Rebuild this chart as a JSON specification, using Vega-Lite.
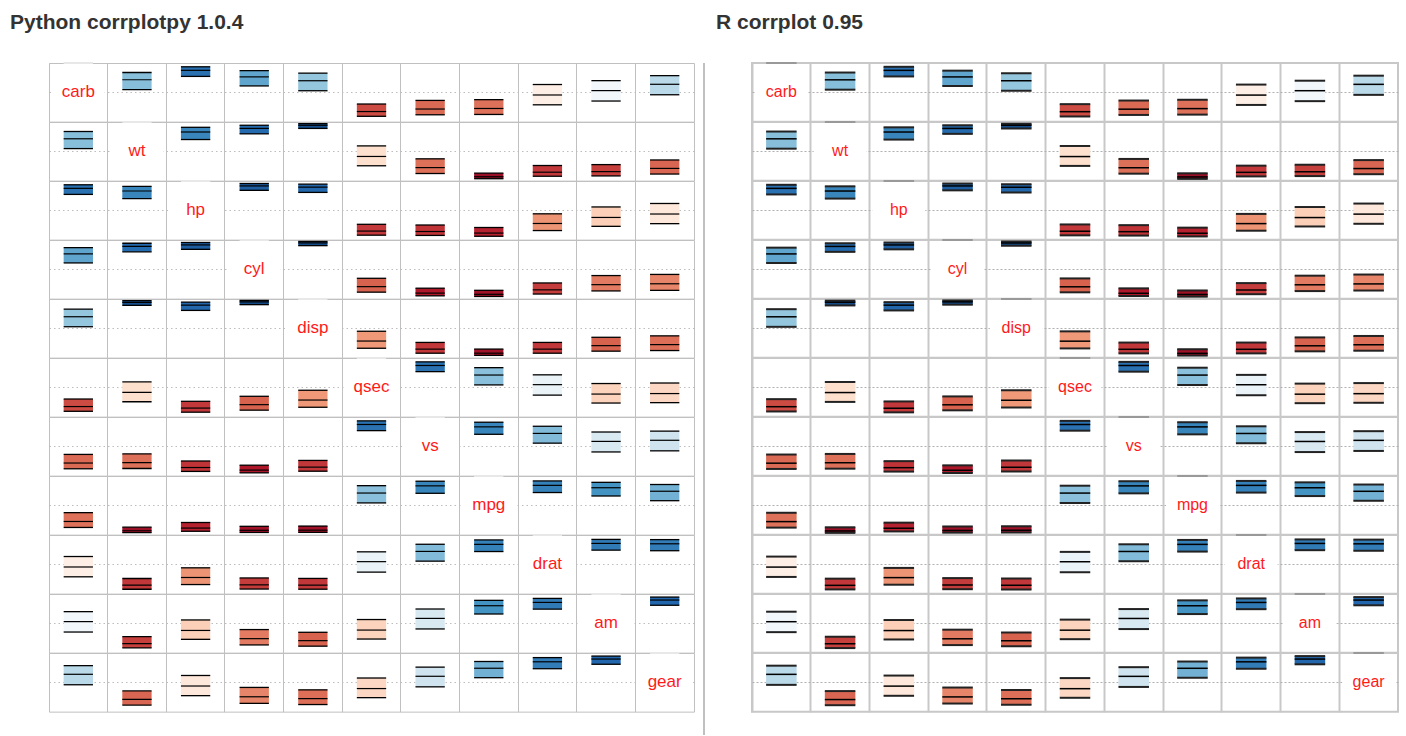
{
"$schema": "https://vega.github.io/schema/vega-lite/v6.json",
"padding": {"left": 10, "top": 11, "right": 0, "bottom": 0},
"spacing": 8,
"config": {"font": "Liberation Sans", "view": {"stroke": "#c0c0c0"}},
"datasets": {"corr": [
{"v1":"carb","v2":"carb","r":1,"lo":1,"hi":1},
{"v1":"carb","v2":"wt","r":0.428,"lo":0.093,"hi":0.676},
{"v1":"carb","v2":"hp","r":0.750,"lo":0.543,"hi":0.871},
{"v1":"carb","v2":"cyl","r":0.527,"lo":0.218,"hi":0.740},
{"v1":"carb","v2":"disp","r":0.395,"lo":0.054,"hi":0.654},
{"v1":"carb","v2":"qsec","r":-0.656,"lo":-0.818,"hi":-0.399},
{"v1":"carb","v2":"vs","r":-0.570,"lo":-0.766,"hi":-0.276},
{"v1":"carb","v2":"mpg","r":-0.551,"lo":-0.755,"hi":-0.250},
{"v1":"carb","v2":"drat","r":-0.091,"lo":-0.426,"hi":0.266},
{"v1":"carb","v2":"am","r":0.058,"lo":-0.297,"hi":0.398},
{"v1":"carb","v2":"gear","r":0.274,"lo":-0.083,"hi":0.569},
{"v1":"wt","v2":"carb","r":0.428,"lo":0.093,"hi":0.676},
{"v1":"wt","v2":"wt","r":1,"lo":1,"hi":1},
{"v1":"wt","v2":"hp","r":0.659,"lo":0.402,"hi":0.819},
{"v1":"wt","v2":"cyl","r":0.782,"lo":0.597,"hi":0.889},
{"v1":"wt","v2":"disp","r":0.888,"lo":0.781,"hi":0.944},
{"v1":"wt","v2":"qsec","r":-0.175,"lo":-0.493,"hi":0.185},
{"v1":"wt","v2":"vs","r":-0.555,"lo":-0.757,"hi":-0.256},
{"v1":"wt","v2":"mpg","r":-0.868,"lo":-0.934,"hi":-0.744},
{"v1":"wt","v2":"drat","r":-0.712,"lo":-0.850,"hi":-0.484},
{"v1":"wt","v2":"am","r":-0.692,"lo":-0.839,"hi":-0.453},
{"v1":"wt","v2":"gear","r":-0.583,"lo":-0.775,"hi":-0.295},
{"v1":"hp","v2":"carb","r":0.750,"lo":0.543,"hi":0.871},
{"v1":"hp","v2":"wt","r":0.659,"lo":0.402,"hi":0.819},
{"v1":"hp","v2":"hp","r":1,"lo":1,"hi":1},
{"v1":"hp","v2":"cyl","r":0.832,"lo":0.682,"hi":0.915},
{"v1":"hp","v2":"disp","r":0.791,"lo":0.611,"hi":0.893},
{"v1":"hp","v2":"qsec","r":-0.708,"lo":-0.848,"hi":-0.477},
{"v1":"hp","v2":"vs","r":-0.723,"lo":-0.856,"hi":-0.501},
{"v1":"hp","v2":"mpg","r":-0.776,"lo":-0.885,"hi":-0.586},
{"v1":"hp","v2":"drat","r":-0.449,"lo":-0.690,"hi":-0.119},
{"v1":"hp","v2":"am","r":-0.243,"lo":-0.546,"hi":0.115},
{"v1":"hp","v2":"gear","r":-0.126,"lo":-0.455,"hi":0.233},
{"v1":"cyl","v2":"carb","r":0.527,"lo":0.218,"hi":0.740},
{"v1":"cyl","v2":"wt","r":0.782,"lo":0.597,"hi":0.889},
{"v1":"cyl","v2":"hp","r":0.832,"lo":0.682,"hi":0.915},
{"v1":"cyl","v2":"cyl","r":1,"lo":1,"hi":1},
{"v1":"cyl","v2":"disp","r":0.902,"lo":0.807,"hi":0.951},
{"v1":"cyl","v2":"qsec","r":-0.591,"lo":-0.779,"hi":-0.306},
{"v1":"cyl","v2":"vs","r":-0.811,"lo":-0.904,"hi":-0.644},
{"v1":"cyl","v2":"mpg","r":-0.852,"lo":-0.926,"hi":-0.716},
{"v1":"cyl","v2":"drat","r":-0.700,"lo":-0.843,"hi":-0.465},
{"v1":"cyl","v2":"am","r":-0.523,"lo":-0.737,"hi":-0.213},
{"v1":"cyl","v2":"gear","r":-0.493,"lo":-0.718,"hi":-0.174},
{"v1":"disp","v2":"carb","r":0.395,"lo":0.054,"hi":0.654},
{"v1":"disp","v2":"wt","r":0.888,"lo":0.781,"hi":0.944},
{"v1":"disp","v2":"hp","r":0.791,"lo":0.611,"hi":0.893},
{"v1":"disp","v2":"cyl","r":0.902,"lo":0.807,"hi":0.951},
{"v1":"disp","v2":"disp","r":1,"lo":1,"hi":1},
{"v1":"disp","v2":"qsec","r":-0.434,"lo":-0.680,"hi":-0.100},
{"v1":"disp","v2":"vs","r":-0.710,"lo":-0.849,"hi":-0.481},
{"v1":"disp","v2":"mpg","r":-0.848,"lo":-0.923,"hi":-0.708},
{"v1":"disp","v2":"drat","r":-0.710,"lo":-0.849,"hi":-0.481},
{"v1":"disp","v2":"am","r":-0.591,"lo":-0.779,"hi":-0.306},
{"v1":"disp","v2":"gear","r":-0.556,"lo":-0.758,"hi":-0.257},
{"v1":"qsec","v2":"carb","r":-0.656,"lo":-0.818,"hi":-0.399},
{"v1":"qsec","v2":"wt","r":-0.175,"lo":-0.493,"hi":0.185},
{"v1":"qsec","v2":"hp","r":-0.708,"lo":-0.848,"hi":-0.477},
{"v1":"qsec","v2":"cyl","r":-0.591,"lo":-0.779,"hi":-0.306},
{"v1":"qsec","v2":"disp","r":-0.434,"lo":-0.680,"hi":-0.100},
{"v1":"qsec","v2":"qsec","r":1,"lo":1,"hi":1},
{"v1":"qsec","v2":"vs","r":0.745,"lo":0.535,"hi":0.868},
{"v1":"qsec","v2":"mpg","r":0.419,"lo":0.082,"hi":0.670},
{"v1":"qsec","v2":"drat","r":0.091,"lo":-0.266,"hi":0.426},
{"v1":"qsec","v2":"am","r":-0.230,"lo":-0.536,"hi":0.129},
{"v1":"qsec","v2":"gear","r":-0.213,"lo":-0.523,"hi":0.147},
{"v1":"vs","v2":"carb","r":-0.570,"lo":-0.766,"hi":-0.276},
{"v1":"vs","v2":"wt","r":-0.555,"lo":-0.757,"hi":-0.256},
{"v1":"vs","v2":"hp","r":-0.723,"lo":-0.856,"hi":-0.501},
{"v1":"vs","v2":"cyl","r":-0.811,"lo":-0.904,"hi":-0.644},
{"v1":"vs","v2":"disp","r":-0.710,"lo":-0.849,"hi":-0.481},
{"v1":"vs","v2":"qsec","r":0.745,"lo":0.535,"hi":0.868},
{"v1":"vs","v2":"vs","r":1,"lo":1,"hi":1},
{"v1":"vs","v2":"mpg","r":0.664,"lo":0.410,"hi":0.822},
{"v1":"vs","v2":"drat","r":0.440,"lo":0.108,"hi":0.684},
{"v1":"vs","v2":"am","r":0.168,"lo":-0.192,"hi":0.488},
{"v1":"vs","v2":"gear","r":0.206,"lo":-0.154,"hi":0.518},
{"v1":"mpg","v2":"carb","r":-0.551,"lo":-0.755,"hi":-0.250},
{"v1":"mpg","v2":"wt","r":-0.868,"lo":-0.934,"hi":-0.744},
{"v1":"mpg","v2":"hp","r":-0.776,"lo":-0.885,"hi":-0.586},
{"v1":"mpg","v2":"cyl","r":-0.852,"lo":-0.926,"hi":-0.716},
{"v1":"mpg","v2":"disp","r":-0.848,"lo":-0.923,"hi":-0.708},
{"v1":"mpg","v2":"qsec","r":0.419,"lo":0.082,"hi":0.670},
{"v1":"mpg","v2":"vs","r":0.664,"lo":0.410,"hi":0.822},
{"v1":"mpg","v2":"mpg","r":1,"lo":1,"hi":1},
{"v1":"mpg","v2":"drat","r":0.681,"lo":0.436,"hi":0.832},
{"v1":"mpg","v2":"am","r":0.600,"lo":0.318,"hi":0.784},
{"v1":"mpg","v2":"gear","r":0.480,"lo":0.158,"hi":0.710},
{"v1":"drat","v2":"carb","r":-0.091,"lo":-0.426,"hi":0.266},
{"v1":"drat","v2":"wt","r":-0.712,"lo":-0.850,"hi":-0.484},
{"v1":"drat","v2":"hp","r":-0.449,"lo":-0.690,"hi":-0.119},
{"v1":"drat","v2":"cyl","r":-0.700,"lo":-0.843,"hi":-0.465},
{"v1":"drat","v2":"disp","r":-0.710,"lo":-0.849,"hi":-0.481},
{"v1":"drat","v2":"qsec","r":0.091,"lo":-0.266,"hi":0.426},
{"v1":"drat","v2":"vs","r":0.440,"lo":0.108,"hi":0.684},
{"v1":"drat","v2":"mpg","r":0.681,"lo":0.436,"hi":0.832},
{"v1":"drat","v2":"drat","r":1,"lo":1,"hi":1},
{"v1":"drat","v2":"am","r":0.713,"lo":0.484,"hi":0.850},
{"v1":"drat","v2":"gear","r":0.700,"lo":0.464,"hi":0.843},
{"v1":"am","v2":"carb","r":0.058,"lo":-0.297,"hi":0.398},
{"v1":"am","v2":"wt","r":-0.692,"lo":-0.839,"hi":-0.453},
{"v1":"am","v2":"hp","r":-0.243,"lo":-0.546,"hi":0.115},
{"v1":"am","v2":"cyl","r":-0.523,"lo":-0.737,"hi":-0.213},
{"v1":"am","v2":"disp","r":-0.591,"lo":-0.779,"hi":-0.306},
{"v1":"am","v2":"qsec","r":-0.230,"lo":-0.536,"hi":0.129},
{"v1":"am","v2":"vs","r":0.168,"lo":-0.192,"hi":0.488},
{"v1":"am","v2":"mpg","r":0.600,"lo":0.318,"hi":0.784},
{"v1":"am","v2":"drat","r":0.713,"lo":0.484,"hi":0.850},
{"v1":"am","v2":"am","r":1,"lo":1,"hi":1},
{"v1":"am","v2":"gear","r":0.794,"lo":0.616,"hi":0.895},
{"v1":"gear","v2":"carb","r":0.274,"lo":-0.083,"hi":0.569},
{"v1":"gear","v2":"wt","r":-0.583,"lo":-0.775,"hi":-0.295},
{"v1":"gear","v2":"hp","r":-0.126,"lo":-0.455,"hi":0.233},
{"v1":"gear","v2":"cyl","r":-0.493,"lo":-0.718,"hi":-0.174},
{"v1":"gear","v2":"disp","r":-0.556,"lo":-0.758,"hi":-0.257},
{"v1":"gear","v2":"qsec","r":-0.213,"lo":-0.523,"hi":0.147},
{"v1":"gear","v2":"vs","r":0.206,"lo":-0.154,"hi":0.518},
{"v1":"gear","v2":"mpg","r":0.480,"lo":0.158,"hi":0.710},
{"v1":"gear","v2":"drat","r":0.700,"lo":0.464,"hi":0.843},
{"v1":"gear","v2":"am","r":0.794,"lo":0.616,"hi":0.895},
{"v1":"gear","v2":"gear","r":1,"lo":1,"hi":1}
]},
"hconcat": [
{
"data": {"name": "corr"},
"title": {"text": "Python corrplotpy 1.0.4", "anchor": "start", "frame": "group", "dx": -39, "fontSize": 21, "fontWeight": "bold", "color": "#333333", "offset": 29},
"facet": {"row": {"field": "v1", "type": "nominal", "sort": ["carb","wt","hp","cyl","disp","qsec","vs","mpg","drat","am","gear"], "header": null}},
"spacing": -0.36,
"bounds": "flush",
"spec": {
"width": 645, "height": 58.64,
"encoding": {"x": {"field": "v2", "type": "nominal", "sort": ["carb","wt","hp","cyl","disp","qsec","vs","mpg","drat","am","gear"], "scale": {"paddingInner": 0, "paddingOuter": 0}, "axis": {"grid": true, "bandPosition": 0, "labels": false, "ticks": false, "domain": false, "title": null, "gridColor": "#c0c0c0"}}},
"layer": [
{"transform": [{"filter": "datum.v1 == datum.v2"}], "mark": {"type": "bar", "width": {"band": 0.9}, "fill": "white"},
 "encoding": {"y": {"datum": -0.95, "type": "quantitative", "scale": {"domain": [-1, 1]}, "axis": {"values": [0], "grid": true, "gridDash": [1.5, 3], "gridColor": "#bdbdbd", "labels": false, "ticks": false, "domain": false, "title": null}}, "y2": {"datum": 0.95}}},
{"transform": [{"filter": "datum.v1 != datum.v2"}], "mark": {"type": "bar", "width": {"band": 0.5}},
 "encoding": {"y": {"field": "lo", "type": "quantitative"}, "y2": {"field": "hi"},
  "color": {"field": "r", "type": "quantitative", "legend": null, "scale": {"domain": [-1,-0.8,-0.6,-0.4,-0.2,0,0.2,0.4,0.6,0.8,1], "range": ["#67001F","#B2182B","#D6604D","#F4A582","#FDDBC7","#FFFFFF","#D1E5F0","#92C5DE","#4393C3","#2166AC","#053061"], "interpolate": "rgb"}}}},
{"transform": [{"filter": "datum.v1 != datum.v2"}], "mark": {"type": "tick", "orient": "horizontal", "color": "black", "opacity": 1, "thickness": 1.3, "size": 29.3},
 "encoding": {"y": {"field": "lo", "type": "quantitative"}}},
{"transform": [{"filter": "datum.v1 != datum.v2"}], "mark": {"type": "tick", "orient": "horizontal", "color": "black", "opacity": 1, "thickness": 1.3, "size": 29.3},
 "encoding": {"y": {"field": "hi", "type": "quantitative"}}},
{"transform": [{"filter": "datum.v1 != datum.v2"}], "mark": {"type": "tick", "orient": "horizontal", "color": "black", "opacity": 1, "thickness": 1.2, "size": 29.3},
 "encoding": {"y": {"field": "r", "type": "quantitative"}}},
{"transform": [{"filter": "datum.v1 == datum.v2"}], "mark": {"type": "tick", "orient": "horizontal", "color": "#e8e8e8", "opacity": 1, "thickness": 2, "size": 29.3},
 "encoding": {"y": {"field": "hi", "type": "quantitative"}}},
{"transform": [{"filter": "datum.v1 == datum.v2"}], "mark": {"type": "text", "color": "#ff1a1a", "fontSize": 17, "baseline": "middle"},
 "encoding": {"y": {"datum": 0}, "text": {"field": "v1"}}}
]
}
},
{
"data": {"values": [{"s": 0}]},
"width": 4, "height": 672,
"view": {"stroke": null},
"mark": {"type": "rule", "color": "#c0c0c0", "strokeWidth": 2},
"encoding": {"x": {"field": "s", "type": "quantitative", "scale": {"domain": [0, 1]}, "axis": null}}
},
{
"data": {"name": "corr"},
"title": {"text": "R corrplot 0.95", "anchor": "start", "frame": "group", "dx": -36, "fontSize": 21, "fontWeight": "bold", "color": "#333333", "offset": 28},
"facet": {"row": {"field": "v1", "type": "nominal", "sort": ["carb","wt","hp","cyl","disp","qsec","vs","mpg","drat","am","gear"], "header": null}},
"spacing": -0.18,
"bounds": "flush",
"spec": {
"width": 646, "height": 58.82,
"view": {"stroke": "#c8c8c8", "strokeWidth": 2},
"encoding": {"x": {"field": "v2", "type": "nominal", "sort": ["carb","wt","hp","cyl","disp","qsec","vs","mpg","drat","am","gear"], "scale": {"paddingInner": 0, "paddingOuter": 0}, "axis": {"grid": true, "bandPosition": 0, "labels": false, "ticks": false, "domain": false, "title": null, "gridColor": "#c8c8c8", "gridWidth": 2}}},
"layer": [
{"transform": [{"filter": "datum.v1 == datum.v2"}], "mark": {"type": "bar", "width": {"band": 0.9}, "fill": "white"},
 "encoding": {"y": {"datum": -0.95, "type": "quantitative", "scale": {"domain": [-1, 1]}, "axis": {"values": [0], "grid": true, "gridDash": [2, 2], "gridColor": "#b0b0b0", "labels": false, "ticks": false, "domain": false, "title": null}}, "y2": {"datum": 0.95}}},
{"transform": [{"filter": "datum.v1 != datum.v2"}], "mark": {"type": "bar", "width": {"band": 0.52}},
 "encoding": {"y": {"field": "lo", "type": "quantitative"}, "y2": {"field": "hi"},
  "color": {"field": "r", "type": "quantitative", "legend": null, "scale": {"domain": [-1,-0.8,-0.6,-0.4,-0.2,0,0.2,0.4,0.6,0.8,1], "range": ["#67001F","#B2182B","#D6604D","#F4A582","#FDDBC7","#FFFFFF","#D1E5F0","#92C5DE","#4393C3","#2166AC","#053061"], "interpolate": "rgb"}}}},
{"transform": [{"filter": "datum.v1 != datum.v2"}], "mark": {"type": "tick", "orient": "horizontal", "color": "#222222", "opacity": 1, "thickness": 2, "size": 30.5},
 "encoding": {"y": {"field": "lo", "type": "quantitative"}}},
{"transform": [{"filter": "datum.v1 != datum.v2"}], "mark": {"type": "tick", "orient": "horizontal", "color": "#222222", "opacity": 1, "thickness": 2, "size": 30.5},
 "encoding": {"y": {"field": "hi", "type": "quantitative"}}},
{"transform": [{"filter": "datum.v1 != datum.v2"}], "mark": {"type": "tick", "orient": "horizontal", "color": "black", "opacity": 1, "thickness": 1.5, "size": 30.5},
 "encoding": {"y": {"field": "r", "type": "quantitative"}}},
{"transform": [{"filter": "datum.v1 == datum.v2"}], "mark": {"type": "tick", "orient": "horizontal", "color": "#999999", "opacity": 1, "thickness": 2, "size": 30.5},
 "encoding": {"y": {"field": "hi", "type": "quantitative"}}},
{"transform": [{"filter": "datum.v1 == datum.v2"}], "mark": {"type": "text", "color": "#ff1a1a", "fontSize": 16, "baseline": "middle"},
 "encoding": {"y": {"datum": 0}, "text": {"field": "v1"}}}
]
}
}
]
}
